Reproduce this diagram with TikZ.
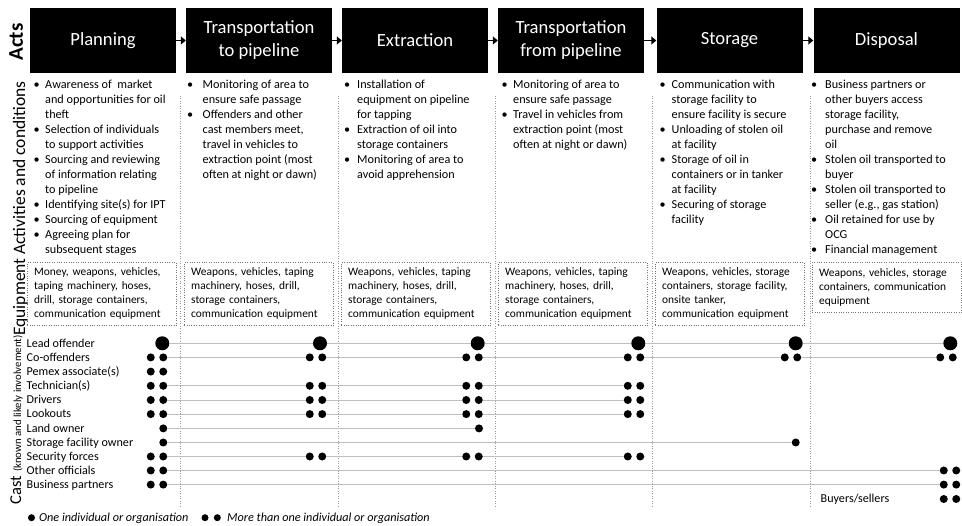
\documentclass[tikz,border=0pt]{standalone}
\usepackage{fontspec}
\setmainfont{Carlito}
\usepackage{tikz}
\usetikzlibrary{arrows.meta}

\begin{document}
\begin{tikzpicture}[x=1pt,y=-1pt]
			\tikzstyle{every node}+=[inner sep=0pt]
			\tikzstyle{act}=[fill=black, text=white, minimum width=146pt, minimum height=65pt, align=center, font=\fontsize{18.6}{23}\selectfont]
			\tikzstyle{flow}=[line width=1.8pt, -{Triangle[length=5pt,width=8pt]}]
			\tikzstyle{side}=[rotate=90, anchor=base, font=\fontsize{17.5}{21}\selectfont]
			\tikzstyle{items}=[anchor=north west, font=\fontsize{12.2}{15}\selectfont]
			\tikzstyle{kit}=[draw=black!55, dotted, anchor=north west, text width=135pt, inner xsep=7pt, inner ysep=4pt, minimum height=63pt, align=left, font=\fontsize{11.4}{13.9}\selectfont]
			\tikzstyle{rule}=[draw=black!40, dotted, line width=0.5pt]
			\tikzstyle{who}=[anchor=base west, font=\fontsize{12.1}{15}\selectfont]
			\tikzstyle{big}=[circle, fill=black, minimum size=14pt]
			\tikzstyle{one}=[circle, fill=black, minimum size=8pt]
			\tikzstyle{two}=[rectangle, minimum width=20.5pt, minimum height=8pt, path picture={\fill[black] ([xshift=4pt]path picture bounding box.west) circle (4pt) ([xshift=-4pt]path picture bounding box.east) circle (4pt);}]
			\tikzstyle{tie}=[draw=black!25, line width=0.9pt]
			\tikzstyle{key}=[anchor=base west, font=\itshape\fontsize{12.2}{15}\selectfont]
			\useasboundingbox (0,0) rectangle (962,526);
			\node [act] (plan) at (103,40.5) {Planning};
			\node [act] (topipe) at (259,40.5) {Transportation\\to pipeline};
			\node [act] (extract) at (415,40.5) {Extraction};
			\node [act] (frompipe) at (571,40.5) {Transportation\\from pipeline};
			\node [act] (store) at (729.5,40.5) {Storage};
			\node [act] (dispose) at (886.5,40.5) {Disposal};
			\draw [flow] (plan) -- (topipe);
			\draw [flow] (topipe) -- (extract);
			\draw [flow] (extract) -- (frompipe);
			\draw [flow] (frompipe) -- (store);
			\draw [flow] (store) -- (dispose);
			\node [side, font=\bfseries\fontsize{21}{24}\selectfont] (lblacts) at (23,42) {Acts};
			\node [side] (lblactivity) at (25,168) {Activities and conditions};
			\node [side] (lblequip) at (25,297) {Equipment};
			\node [side] (lblcast) at (21,420) {{\fontsize{16.6}{20}\selectfont Cast} {\fontsize{10.8}{13}\selectfont(known and likely involvement)}};
			\draw [rule] (180,96) -- (180,508);
			\draw [rule] (338,96) -- (338,508);
			\draw [rule] (495,96) -- (495,508);
			\draw [rule] (652,96) -- (652,508);
			\draw [rule] (810,96) -- (810,508);
			\node [items] (doplan) at (33.5,77.5) {\begin{tabular}{@{}p{11.5pt}@{}l@{}}
				\textbullet & Awareness of\ \ market\\
				& and opportunities for oil\\
				& theft\\
				\textbullet & Selection of individuals\\
				& to support activities\\
				\textbullet & Sourcing and reviewing\\
				& of information relating\\
				& to pipeline\\
				\textbullet & Identifying site(s) for IPT\\
				\textbullet & Sourcing of equipment\\
				\textbullet & Agreeing plan for\\
				& subsequent stages
			\end{tabular}};
			\node [items] (dotopipe) at (187,77.5) {\begin{tabular}{@{}p{15.5pt}@{}l@{}}
				\textbullet & Monitoring of area to\\
				& ensure safe passage\\
				\textbullet & Offenders and other\\
				& cast members meet,\\
				& travel in vehicles to\\
				& extraction point (most\\
				& often at night or dawn)
			\end{tabular}};
			\node [items] (doextract) at (344,77.5) {\begin{tabular}{@{}p{13pt}@{}l@{}}
				\textbullet & Installation of\\
				& equipment on pipeline\\
				& for tapping\\
				\textbullet & Extraction of oil into\\
				& storage containers\\
				\textbullet & Monitoring of area to\\
				& avoid apprehension
			\end{tabular}};
			\node [items] (dofrompipe) at (501.5,77.5) {\begin{tabular}{@{}p{11.5pt}@{}l@{}}
				\textbullet & Monitoring of area to\\
				& ensure safe passage\\
				\textbullet & Travel in vehicles from\\
				& extraction point (most\\
				& often at night or dawn)
			\end{tabular}};
			\node [items] (dostore) at (659.5,77.5) {\begin{tabular}{@{}p{12pt}@{}l@{}}
				\textbullet & Communication with\\
				& storage facility to\\
				& ensure facility is secure\\
				\textbullet & Unloading of stolen oil\\
				& at facility\\
				\textbullet & Storage of oil in\\
				& containers or in tanker\\
				& at facility\\
				\textbullet & Securing of storage\\
				& facility
			\end{tabular}};
			\node [items] (dodispose) at (811,77.5) {\begin{tabular}{@{}p{14pt}@{}l@{}}
				\textbullet & Business partners or\\
				& other buyers access\\
				& storage facility,\\
				& purchase and remove\\
				& oil\\
				\textbullet & Stolen oil transported to\\
				& buyer\\
				\textbullet & Stolen oil transported to\\
				& seller (e.g., gas station)\\
				\textbullet & Oil retained for use by\\
				& OCG\\
				\textbullet & Financial management
			\end{tabular}};
			\node [kit] (kitplan) at (27,262) {Money, weapons, vehicles,\\taping machinery, hoses,\\drill, storage containers,\\communication equipment};
			\node [kit] (kittopipe) at (184,262) {Weapons, vehicles, taping\\machinery, hoses, drill,\\storage containers,\\communication equipment};
			\node [kit] (kitextract) at (341,262) {Weapons, vehicles, taping\\machinery, hoses, drill,\\storage containers,\\communication equipment};
			\node [kit] (kitfrompipe) at (498,262) {Weapons, vehicles, taping\\machinery, hoses, drill,\\storage containers,\\communication equipment};
			\node [kit] (kitstore) at (655,262) {Weapons, vehicles, storage\\containers, storage facility,\\onsite tanker,\\communication equipment};
			\node [kit, minimum height=50pt] (kitdispose) at (812,262) {Weapons, vehicles, storage\\containers, communication\\equipment};
			\node [who] (wlead) at (26.5,347.1) {Lead offender};
			\node [who] (wco) at (26.5,361.2) {Co-offenders};
			\node [who] (wpem) at (26.5,375.4) {Pemex associate(s)};
			\node [who] (wtech) at (26.5,389.6) {Technician(s)};
			\node [who] (wdrv) at (26.5,403.8) {Drivers};
			\node [who] (wlook) at (26.5,417.9) {Lookouts};
			\node [who] (wland) at (26.5,432.2) {Land owner};
			\node [who] (wsto) at (26.5,446.3) {Storage facility owner};
			\node [who] (wsec) at (26.5,460.3) {Security forces};
			\node [who] (woth) at (26.5,474.3) {Other officials};
			\node [who] (wbus) at (26.5,488.4) {Business partners};
			\node [who] (wbuy) at (820.5,502.8) {Buyers/sellers};
			\node [big] (lead1) at (162.3,343.3) {};
			\node [big] (lead2) at (320,343.3) {};
			\node [big] (lead3) at (477.7,343.3) {};
			\node [big] (lead4) at (638.3,343.3) {};
			\node [big] (lead5) at (795.7,343.3) {};
			\node [big] (lead6) at (950.3,343.3) {};
			\node [two] (co1) at (157,357.4) {};
			\node [two] (co2) at (316,357.4) {};
			\node [two] (co3) at (472.5,357.4) {};
			\node [two] (co4) at (634,357.4) {};
			\node [two] (co5) at (791,357.4) {};
			\node [two] (co6) at (946.5,357.4) {};
			\node [two] (pem1) at (157,371.6) {};
			\node [two] (tech1) at (157,385.8) {};
			\node [two] (tech2) at (316,385.8) {};
			\node [two] (tech3) at (472.5,385.8) {};
			\node [two] (tech4) at (634,385.8) {};
			\node [two] (drv1) at (157,400) {};
			\node [two] (drv2) at (316,400) {};
			\node [two] (drv3) at (472.5,400) {};
			\node [two] (drv4) at (634,400) {};
			\node [two] (look1) at (157,414.1) {};
			\node [two] (look2) at (316,414.1) {};
			\node [two] (look3) at (472.5,414.1) {};
			\node [two] (look4) at (634,414.1) {};
			\node [one] (land1) at (163.3,428.4) {};
			\node [one] (land3) at (479,428.4) {};
			\node [one] (sto1) at (163.3,442.5) {};
			\node [one] (sto5) at (795.7,442.5) {};
			\node [two] (sec1) at (157,456.5) {};
			\node [two] (sec2) at (316,456.5) {};
			\node [two] (sec3) at (472.5,456.5) {};
			\node [two] (sec4) at (634,456.5) {};
			\node [two] (oth1) at (157,470.5) {};
			\node [two] (oth6) at (950,470.5) {};
			\node [two] (bus1) at (157,484.6) {};
			\node [two] (bus6) at (950,484.6) {};
			\node [two] (buy6) at (950,499) {};
			\draw [tie] (lead1) -- (lead2) -- (lead3) -- (lead4) -- (lead5) -- (lead6);
			\draw [tie] (co1) -- (co2) -- (co3) -- (co4) -- (co5) -- (co6);
			\draw [tie] (tech1) -- (tech2) -- (tech3) -- (tech4);
			\draw [tie] (drv1) -- (drv2) -- (drv3) -- (drv4);
			\draw [tie] (look1) -- (look2) -- (look3) -- (look4);
			\draw [tie] (land1) -- (land3);
			\draw [tie] (sto1) -- (sto5);
			\draw [tie] (sec1) -- (sec2) -- (sec3) -- (sec4);
			\draw [tie] (oth1) -- (oth6);
			\draw [tie] (bus1) -- (bus6);
			\node [one, minimum size=7pt] (keyone) at (31.5,517.7) {};
			\node [key] (txtone) at (39,521.5) {One individual or organisation};
			\node [one, minimum size=7pt] (keytwoa) at (205,517.7) {};
			\node [one, minimum size=7pt] (keytwob) at (217.3,517.7) {};
			\node [key] (txttwo) at (227,521.5) {More than one individual or organisation};
\end{tikzpicture}
\end{document}
